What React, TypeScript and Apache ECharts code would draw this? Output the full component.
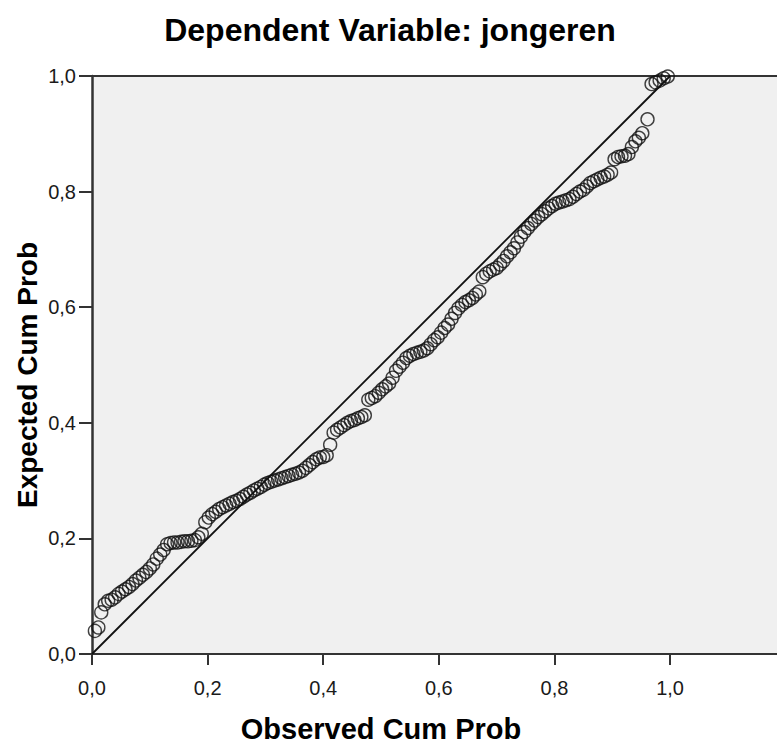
import React, { useEffect, useRef } from "react";
import * as echarts from "echarts";

const titleText = "Dependent Variable: jongeren";
const xName = "Observed Cum Prob";
const yName = "Expected Cum Prob";
const tickValues = [0, 0.2, 0.4, 0.6, 0.8, 1.0];

const observed = [
  0.005, 0.011, 0.016, 0.022, 0.028, 0.034, 0.04, 0.046, 0.052, 0.058, 0.064, 0.07, 0.076, 0.082, 0.088, 0.094,
  0.1, 0.106, 0.112, 0.118, 0.124, 0.13, 0.136, 0.142, 0.148, 0.154, 0.16, 0.166, 0.172, 0.178, 0.184, 0.19,
  0.196, 0.202, 0.208, 0.214, 0.22, 0.226, 0.232, 0.238, 0.244, 0.25, 0.256, 0.262, 0.268, 0.274, 0.28, 0.286,
  0.292, 0.298, 0.304, 0.31, 0.316, 0.322, 0.328, 0.334, 0.34, 0.346, 0.352, 0.358, 0.364, 0.37, 0.376, 0.382,
  0.388, 0.394, 0.4, 0.406, 0.412, 0.418, 0.424, 0.43, 0.436, 0.442, 0.448, 0.454, 0.46, 0.466, 0.472, 0.478,
  0.484, 0.49, 0.496, 0.502, 0.508, 0.514, 0.52, 0.526, 0.532, 0.538, 0.544, 0.55, 0.556, 0.562, 0.568, 0.574,
  0.58, 0.586, 0.592, 0.598, 0.604, 0.61, 0.616, 0.622, 0.628, 0.634, 0.64, 0.646, 0.652, 0.658, 0.664, 0.67,
  0.676, 0.682, 0.688, 0.694, 0.7, 0.706, 0.712, 0.718, 0.724, 0.73, 0.736, 0.742, 0.748, 0.754, 0.76, 0.766,
  0.772, 0.778, 0.784, 0.79, 0.796, 0.802, 0.808, 0.814, 0.82, 0.826, 0.832, 0.838, 0.844, 0.85, 0.856, 0.862,
  0.868, 0.874, 0.88, 0.886, 0.892, 0.898, 0.904, 0.91, 0.916, 0.922, 0.928, 0.934, 0.94, 0.946, 0.952, 0.961,
  0.968, 0.975, 0.982, 0.989, 0.996,
];

const expected = [
  0.04, 0.046, 0.072, 0.086, 0.092, 0.094, 0.098, 0.104, 0.108, 0.112, 0.116, 0.121, 0.127, 0.132, 0.137, 0.142,
  0.148, 0.155, 0.165, 0.172, 0.18, 0.19, 0.192, 0.193, 0.193, 0.194, 0.195, 0.195, 0.196, 0.197, 0.202, 0.208,
  0.228, 0.236, 0.242, 0.246, 0.251, 0.254, 0.257, 0.26, 0.263, 0.265, 0.268, 0.272, 0.276, 0.279, 0.283, 0.286,
  0.289, 0.293, 0.296, 0.298, 0.3, 0.302, 0.304, 0.306, 0.308, 0.31, 0.312, 0.314, 0.317, 0.322, 0.327, 0.332,
  0.337, 0.34, 0.341, 0.344, 0.362, 0.383, 0.388, 0.392, 0.396, 0.4, 0.403, 0.405, 0.408, 0.41, 0.413, 0.44,
  0.443, 0.446, 0.452, 0.458, 0.463, 0.468, 0.478, 0.49, 0.497, 0.504, 0.512, 0.516, 0.519, 0.521, 0.523, 0.525,
  0.529, 0.536, 0.543, 0.548, 0.556, 0.564, 0.57, 0.58, 0.59, 0.598, 0.604, 0.609, 0.612, 0.616, 0.622, 0.627,
  0.652, 0.658, 0.662, 0.665, 0.668, 0.674, 0.68, 0.688, 0.695, 0.702, 0.712, 0.722, 0.73, 0.737, 0.744, 0.75,
  0.756, 0.761, 0.766, 0.771, 0.775, 0.779, 0.781, 0.783, 0.785, 0.787, 0.791, 0.796, 0.8, 0.803, 0.809, 0.815,
  0.818, 0.821, 0.824, 0.826, 0.829, 0.833, 0.856, 0.86, 0.861, 0.862, 0.865, 0.877, 0.887, 0.893, 0.901, 0.925,
  0.986, 0.989, 0.992, 0.996, 0.999,
];

const refLine = [
  [0, 0],
  [1, 1],
];

const FONT = "'Liberation Sans', Arial, sans-serif";
const fmt = (v: number) => v.toFixed(1).replace(".", ",");

export default function App() {
  const ref = useRef<HTMLDivElement>(null);
  useEffect(() => {
    document.body.style.margin = "0";
    const chart = echarts.init(ref.current!, null, { renderer: "svg" });
    const points = observed.map((x, i) => [x, expected[i]]);
    chart.setOption({
      animation: false,
      backgroundColor: "#ffffff",
      title: {
        text: titleText,
        left: 385,
        textAlign: "center",
        top: 9,
        textStyle: { fontFamily: FONT, fontSize: 32, fontWeight: "bold", color: "#000" },
      },
      graphic: [
        {
          type: "text",
          x: 27,
          y: 375,
          rotation: Math.PI / 2,
          style: {
            text: yName,
            fontFamily: FONT,
            fontSize: 28,
            fontWeight: "bold",
            fill: "#000",
            align: "center",
            verticalAlign: "middle",
          },
        },
        {
          type: "text",
          x: 381,
          y: 729,
          style: {
            text: xName,
            fontFamily: FONT,
            fontSize: 29,
            fontWeight: "bold",
            fill: "#000",
            align: "center",
            verticalAlign: "middle",
          },
        },
      ],
      grid: {
        left: 92,
        right: 0,
        top: 76,
        bottom: 90,
        show: true,
        backgroundColor: "#f0f0f0",
        borderWidth: 0,
      },
      xAxis: [
        {
          type: "value",
          min: 0,
          max: 1.185,
          interval: 0.2,
          splitLine: { show: false },
          axisLine: { show: true, lineStyle: { color: "#333", width: 2 } },
          axisTick: { show: true, length: 11, customValues: tickValues, lineStyle: { color: "#333", width: 2 } },
          axisLabel: {
            customValues: tickValues,
            formatter: (v: number) => fmt(v),
            margin: 24,
            fontFamily: FONT,
            fontSize: 20,
            color: "#1a1a1a",
          },
        },
        {
          type: "value",
          position: "top",
          min: 0,
          max: 1.185,
          splitLine: { show: false },
          axisLine: { show: true, lineStyle: { color: "#333", width: 2 } },
          axisTick: { show: false },
          axisLabel: { show: false },
        },
      ],
      yAxis: {
        type: "value",
        min: 0,
        max: 1,
        interval: 0.2,
        splitLine: { show: false },
        axisLine: { show: true, lineStyle: { color: "#333", width: 2.5 } },
        axisTick: { show: true, length: 13, lineStyle: { color: "#333", width: 2 } },
        axisLabel: {
          formatter: (v: number) => fmt(v),
          margin: 16,
          fontFamily: FONT,
          fontSize: 20,
          color: "#1a1a1a",
        },
      },
      series: [
        {
          type: "line",
          data: refLine,
          symbol: "none",
          lineStyle: { color: "#111", width: 1.8 },
          z: 2,
        },
        {
          type: "scatter",
          data: points,
          symbol: "circle",
          symbolSize: 13,
          itemStyle: { color: "rgba(0,0,0,0)", borderColor: "#111", borderWidth: 1.4 },
          z: 3,
        },
      ],
    });
    return () => chart.dispose();
  }, []);
  return <div ref={ref} style={{ width: 777, height: 744 }} />;
}
